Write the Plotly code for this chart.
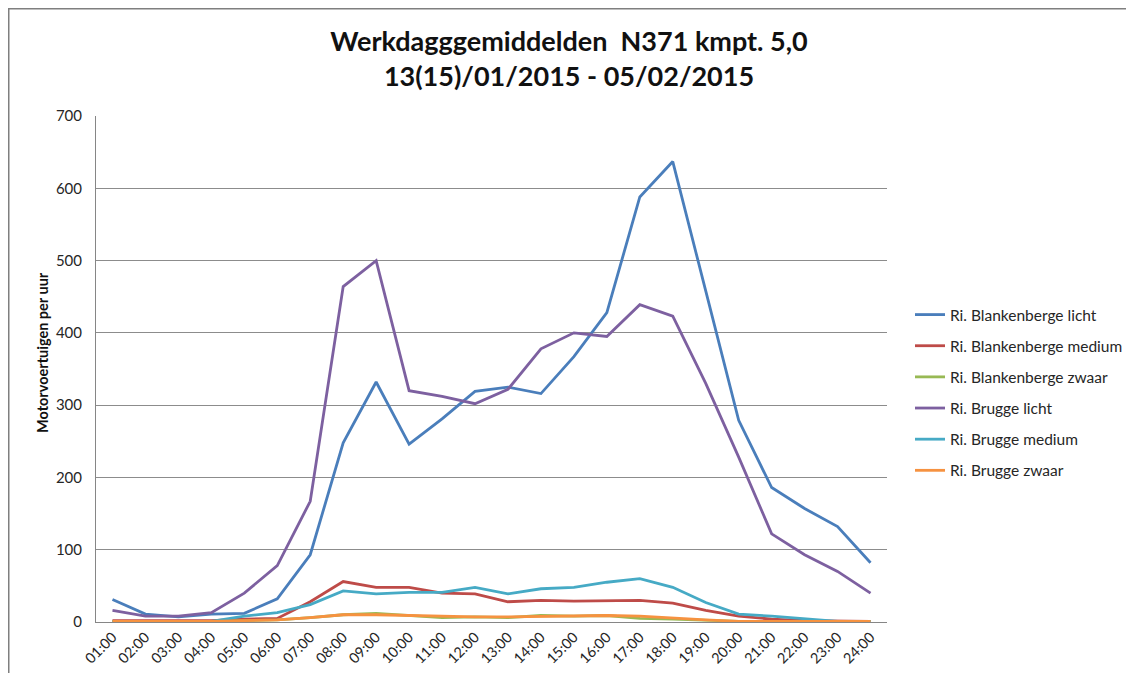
import plotly.graph_objects as go

hours = ["01:00", "02:00", "03:00", "04:00", "05:00", "06:00", "07:00", "08:00",
         "09:00", "10:00", "11:00", "12:00", "13:00", "14:00", "15:00", "16:00",
         "17:00", "18:00", "19:00", "20:00", "21:00", "22:00", "23:00", "24:00"]

blank_licht = [31, 11, 7, 11, 12, 32, 93, 248, 332, 246, 281, 319, 325, 316, 367, 428,
               588, 637, 458, 279, 186, 157, 132, 82]
blank_medium = [2, 2, 1, 2, 4, 5, 28, 56, 48, 48, 40, 39, 28, 30, 29, 29,
                30, 26, 16, 8, 4, 2, 1, 1]
blank_zwaar = [1, 1, 0, 1, 2, 3, 6, 10, 12, 9, 6, 7, 6, 9, 8, 9,
               5, 4, 2, 1, 1, 1, 1, 1]
brugge_licht = [16, 8, 8, 13, 40, 78, 167, 464, 500, 320, 312, 302, 322, 378, 400, 395,
                439, 423, 330, 228, 122, 93, 70, 40]
brugge_medium = [1, 1, 0, 1, 8, 13, 24, 43, 39, 41, 41, 48, 39, 46, 48, 55,
                 60, 48, 27, 11, 8, 4, 1, 1]
brugge_zwaar = [1, 1, 0, 1, 2, 3, 6, 10, 10, 9, 7, 7, 7, 8, 8, 9,
                8, 5, 3, 1, 1, 1, 1, 1]

series = [
    ("Ri. Blankenberge licht", blank_licht, "#4A7EBB"),
    ("Ri. Blankenberge medium", blank_medium, "#BE4B48"),
    ("Ri. Blankenberge zwaar", blank_zwaar, "#98B954"),
    ("Ri. Brugge licht", brugge_licht, "#7D60A0"),
    ("Ri. Brugge medium", brugge_medium, "#46AAC5"),
    ("Ri. Brugge zwaar", brugge_zwaar, "#F69240"),
]

FONT = "Lato"

fig = go.Figure()
for i, (name, vals, col) in enumerate(series):
    fig.add_trace(go.Scatter(
        x=hours, y=vals, name=name, mode="lines",
        line=dict(color=col, width=2.8),
        legendgroup=f"g{i}",
    ))

# page body has an 8px margin on every side; work in reference pixel coords minus 8
OFF = 8
W, H = 1134 - 2 * OFF, 681 - 2 * OFF
L, T = 96 - OFF, 116 - OFF
R = W - (887 - OFF)
B = H - (622 - OFF)
pw, ph = W - L - R, H - T - B

def px(x):
    return (x - OFF - L) / pw

def py(y):
    return (H - B - (y - OFF)) / ph

fig.update_layout(
    width=W, height=H,
    margin=dict(l=L, r=R, t=T, b=B, autoexpand=False),
    paper_bgcolor="white", plot_bgcolor="white",
    font=dict(family=FONT, size=15, color="#262626"),
    title=dict(
        text="<b>Werkdagggemiddelden  N371 kmpt. 5,0<br>13(15)/01/2015 - 05/02/2015</b>",
        x=px(569), xref="paper", xanchor="center",
        y=1 - (51 - OFF) / H, yref="container", yanchor="middle",
        font=dict(family=FONT, size=27, color="#111111"),
    ),
    xaxis=dict(
        type="category", range=[-0.5, 23.5], automargin=False,
        showgrid=False, showline=True, linecolor="#868686", linewidth=1,
        tickangle=-45, tickfont=dict(size=14.5, color="#262626"),
        ticks="", zeroline=False,
    ),
    yaxis=dict(
        range=[0, 700], dtick=100, tick0=0, automargin=False,
        showgrid=True, gridcolor="#8C8C8C", gridwidth=1,
        showline=True, linecolor="#868686", linewidth=1,
        zeroline=False, ticks="outside", ticklen=10, tickcolor="rgba(0,0,0,0)",
        tickfont=dict(size=15, color="#262626"),
    ),
    legend=dict(
        x=px(910), y=py(298), xanchor="left", yanchor="top",
        font=dict(size=15.5, color="#262626"),
        tracegroupgap=8,
        bgcolor="rgba(0,0,0,0)",
    ),
    annotations=[
        dict(text="<b>Motorvoertuigen per uur</b>", textangle=-90,
             xref="paper", yref="paper", x=px(42), y=py(353),
             xanchor="center", yanchor="middle", showarrow=False,
             font=dict(family=FONT, size=14.5, color="#111111")),
    ],
    shapes=[
        dict(type="line", xref="paper", yref="paper",
             x0=px(8.75), x1=px(8.75), y0=py(681), y1=py(8.75),
             line=dict(color="#7F7F7F", width=1.5)),
        dict(type="line", xref="paper", yref="paper",
             x0=px(8), x1=px(1134), y0=py(8.75), y1=py(8.75),
             line=dict(color="#7F7F7F", width=1.5)),
    ],
)

fig.write_html("out.html")
